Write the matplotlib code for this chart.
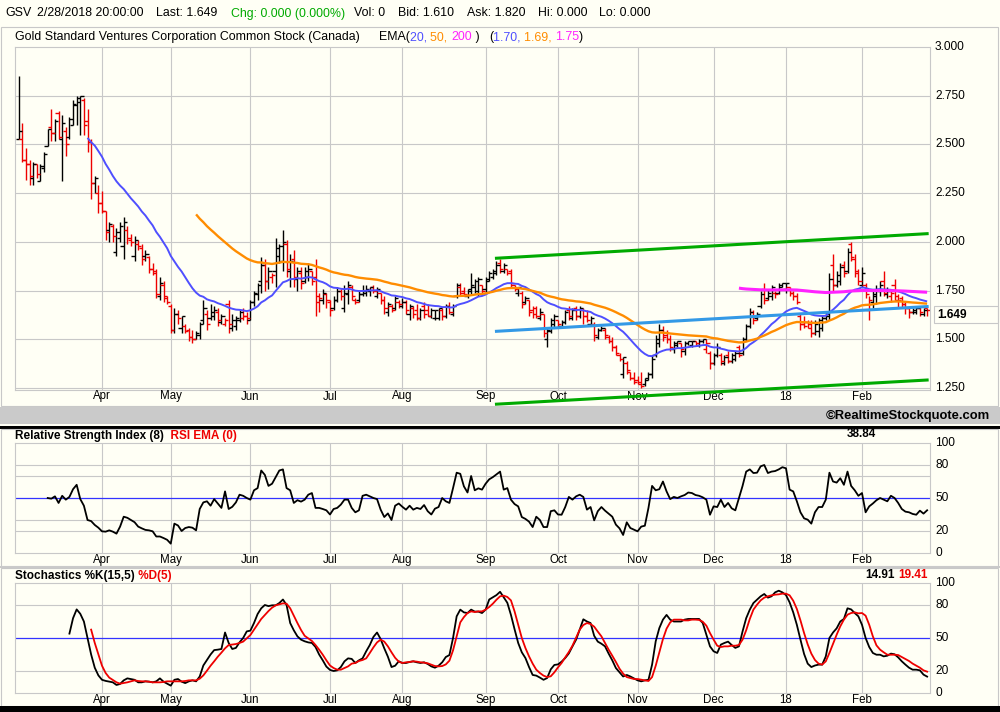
import matplotlib
matplotlib.use("Agg")
import matplotlib.pyplot as plt
import numpy as np
import pandas as pd
from matplotlib.patches import Rectangle
from matplotlib.transforms import blended_transform_factory as blend

# ---------------- data ----------------
HOLIDAYS = ["2017-04-14", "2017-05-29", "2017-07-04", "2017-09-04", "2017-11-23",
            "2017-12-25", "2018-01-01", "2018-01-15", "2018-02-19"]
DATES = pd.bdate_range("2017-03-01", "2018-02-28", freq="C", holidays=HOLIDAYS)

OPEN = [2.53, 2.53, 2.42, 2.40, 2.33, 2.40, 2.31, 2.38, 2.49, 2.59,
        2.56, 2.66, 2.53, 2.57, 2.54, 2.60, 2.70, 2.72, 2.73, 2.62,
        2.51, 2.30, 2.25, 2.20, 2.16, 2.06, 2.08, 1.95, 2.02, 1.98,
        2.06, 2.01, 1.93, 1.99, 1.97, 1.93, 1.92, 1.86, 1.84, 1.72,
        1.78, 1.71, 1.67, 1.55, 1.63, 1.56, 1.57, 1.55, 1.51, 1.50,
        1.52, 1.60, 1.63, 1.61, 1.62, 1.64, 1.59, 1.58, 1.68, 1.56,
        1.57, 1.60, 1.61, 1.62, 1.60, 1.69, 1.73, 1.80, 1.88, 1.80,
        1.82, 1.85, 1.93, 1.90, 1.99, 1.85, 1.91, 1.81, 1.84, 1.80,
        1.82, 1.85, 1.82, 1.69, 1.70, 1.73, 1.69, 1.66, 1.70, 1.75,
        1.66, 1.73, 1.77, 1.70, 1.70, 1.73, 1.74, 1.75, 1.77, 1.72,
        1.74, 1.70, 1.64, 1.67, 1.66, 1.69, 1.67, 1.69, 1.63, 1.66,
        1.65, 1.61, 1.67, 1.65, 1.62, 1.61, 1.61, 1.65, 1.62, 1.67,
        1.63, 1.72, 1.77, 1.75, 1.72, 1.76, 1.77, 1.75, 1.78, 1.76,
        1.81, 1.82, 1.84, 1.89, 1.85, 1.86, 1.85, 1.78, 1.74, 1.74,
        1.69, 1.70, 1.65, 1.66, 1.61, 1.63, 1.50, 1.54, 1.58, 1.60,
        1.57, 1.59, 1.65, 1.61, 1.66, 1.62, 1.65, 1.62, 1.58, 1.58,
        1.51, 1.55, 1.55, 1.51, 1.49, 1.46, 1.42, 1.32, 1.38, 1.33,
        1.30, 1.29, 1.28, 1.27, 1.30, 1.32, 1.42, 1.48, 1.55, 1.52,
        1.50, 1.45, 1.47, 1.48, 1.44, 1.48, 1.47, 1.49, 1.47, 1.49,
        1.45, 1.43, 1.38, 1.42, 1.42, 1.38, 1.42, 1.39, 1.40, 1.46,
        1.43, 1.50, 1.57, 1.64, 1.61, 1.67, 1.76, 1.71, 1.72, 1.74,
        1.74, 1.77, 1.76, 1.77, 1.74, 1.72, 1.62, 1.58, 1.59, 1.58,
        1.53, 1.54, 1.56, 1.61, 1.62, 1.88, 1.78, 1.80, 1.88, 1.85,
        1.99, 1.91, 1.84, 1.78, 1.78, 1.65, 1.69, 1.72, 1.75, 1.80,
        1.73, 1.72, 1.78, 1.70, 1.71, 1.68, 1.66, 1.64, 1.64, 1.66,
        1.63, 1.66]
HIGH = [2.85, 2.61, 2.48, 2.42, 2.41, 2.40, 2.40, 2.46, 2.58, 2.68,
        2.63, 2.67, 2.65, 2.59, 2.64, 2.73, 2.75, 2.75, 2.74, 2.68,
        2.53, 2.34, 2.29, 2.26, 2.16, 2.10, 2.09, 2.07, 2.10, 2.13,
        2.08, 2.04, 2.03, 2.01, 1.99, 1.96, 1.93, 1.89, 1.86, 1.82,
        1.80, 1.72, 1.68, 1.66, 1.65, 1.62, 1.58, 1.56, 1.55, 1.54,
        1.59, 1.70, 1.65, 1.68, 1.67, 1.66, 1.63, 1.61, 1.70, 1.63,
        1.62, 1.65, 1.66, 1.64, 1.70, 1.75, 1.79, 1.92, 1.91, 1.87,
        1.84, 2.02, 1.99, 2.06, 2.01, 1.94, 1.96, 1.87, 1.87, 1.87,
        1.89, 1.85, 1.91, 1.74, 1.76, 1.74, 1.70, 1.72, 1.77, 1.76,
        1.78, 1.80, 1.78, 1.71, 1.75, 1.78, 1.78, 1.77, 1.78, 1.77,
        1.74, 1.72, 1.69, 1.68, 1.72, 1.70, 1.71, 1.70, 1.68, 1.67,
        1.68, 1.66, 1.69, 1.68, 1.66, 1.65, 1.66, 1.66, 1.68, 1.69,
        1.68, 1.79, 1.79, 1.77, 1.76, 1.84, 1.81, 1.82, 1.78, 1.82,
        1.85, 1.86, 1.90, 1.91, 1.89, 1.86, 1.86, 1.78, 1.77, 1.75,
        1.72, 1.70, 1.67, 1.67, 1.66, 1.63, 1.56, 1.61, 1.63, 1.60,
        1.60, 1.65, 1.67, 1.66, 1.67, 1.67, 1.66, 1.65, 1.62, 1.59,
        1.56, 1.57, 1.56, 1.52, 1.51, 1.47, 1.43, 1.41, 1.39, 1.33,
        1.33, 1.31, 1.33, 1.30, 1.33, 1.42, 1.52, 1.58, 1.57, 1.55,
        1.52, 1.49, 1.49, 1.48, 1.49, 1.49, 1.49, 1.49, 1.50, 1.50,
        1.50, 1.44, 1.43, 1.48, 1.43, 1.42, 1.44, 1.43, 1.44, 1.47,
        1.51, 1.58, 1.66, 1.65, 1.64, 1.75, 1.79, 1.76, 1.78, 1.75,
        1.79, 1.79, 1.79, 1.77, 1.75, 1.74, 1.63, 1.62, 1.60, 1.60,
        1.60, 1.61, 1.62, 1.64, 1.84, 1.94, 1.85, 1.89, 1.90, 1.97,
        2.00, 1.94, 1.86, 1.87, 1.79, 1.72, 1.75, 1.78, 1.80, 1.85,
        1.77, 1.75, 1.81, 1.73, 1.72, 1.69, 1.67, 1.66, 1.67, 1.67,
        1.66, 1.66]
LOW = [2.53, 2.41, 2.32, 2.29, 2.29, 2.33, 2.31, 2.36, 2.49, 2.52,
       2.52, 2.53, 2.31, 2.44, 2.53, 2.60, 2.60, 2.55, 2.55, 2.46,
       2.22, 2.25, 2.15, 2.15, 2.01, 2.00, 2.00, 1.93, 2.00, 1.91,
       1.99, 1.98, 1.90, 1.96, 1.88, 1.90, 1.84, 1.83, 1.71, 1.70,
       1.69, 1.68, 1.53, 1.53, 1.58, 1.53, 1.53, 1.49, 1.48, 1.50,
       1.50, 1.58, 1.55, 1.60, 1.60, 1.57, 1.58, 1.57, 1.53, 1.54,
       1.55, 1.59, 1.60, 1.58, 1.60, 1.67, 1.70, 1.74, 1.75, 1.76,
       1.79, 1.77, 1.89, 1.85, 1.82, 1.77, 1.77, 1.75, 1.76, 1.79,
       1.80, 1.78, 1.62, 1.64, 1.68, 1.66, 1.62, 1.65, 1.69, 1.70,
       1.64, 1.68, 1.70, 1.68, 1.69, 1.72, 1.72, 1.72, 1.74, 1.71,
       1.68, 1.63, 1.62, 1.64, 1.65, 1.66, 1.66, 1.63, 1.60, 1.61,
       1.60, 1.60, 1.61, 1.62, 1.61, 1.60, 1.60, 1.60, 1.61, 1.63,
       1.62, 1.71, 1.72, 1.72, 1.71, 1.73, 1.74, 1.72, 1.73, 1.74,
       1.80, 1.81, 1.83, 1.84, 1.84, 1.83, 1.77, 1.75, 1.72, 1.66,
       1.68, 1.62, 1.61, 1.61, 1.60, 1.51, 1.46, 1.53, 1.56, 1.56,
       1.56, 1.58, 1.60, 1.60, 1.60, 1.61, 1.58, 1.59, 1.57, 1.49,
       1.50, 1.54, 1.50, 1.48, 1.44, 1.42, 1.39, 1.30, 1.32, 1.29,
       1.27, 1.27, 1.25, 1.26, 1.29, 1.30, 1.41, 1.46, 1.49, 1.48,
       1.44, 1.43, 1.46, 1.41, 1.42, 1.47, 1.46, 1.47, 1.46, 1.48,
       1.43, 1.35, 1.37, 1.41, 1.37, 1.37, 1.38, 1.38, 1.39, 1.41,
       1.42, 1.49, 1.56, 1.58, 1.60, 1.66, 1.68, 1.70, 1.70, 1.71,
       1.73, 1.77, 1.74, 1.72, 1.70, 1.68, 1.55, 1.56, 1.56, 1.51,
       1.52, 1.51, 1.54, 1.60, 1.60, 1.75, 1.77, 1.78, 1.82, 1.84,
       1.90, 1.82, 1.78, 1.77, 1.71, 1.60, 1.66, 1.68, 1.72, 1.72,
       1.71, 1.69, 1.70, 1.66, 1.66, 1.63, 1.61, 1.63, 1.63, 1.62,
       1.62, 1.62]
CLOSE = [2.57, 2.42, 2.40, 2.34, 2.40, 2.35, 2.39, 2.45, 2.58, 2.56,
         2.62, 2.54, 2.61, 2.50, 2.63, 2.71, 2.74, 2.75, 2.60, 2.51,
         2.30, 2.33, 2.20, 2.16, 2.05, 2.09, 2.03, 2.05, 2.08, 2.10,
         2.02, 2.00, 2.01, 1.98, 1.91, 1.94, 1.86, 1.85, 1.73, 1.79,
         1.72, 1.69, 1.55, 1.63, 1.61, 1.62, 1.54, 1.51, 1.50, 1.53,
         1.58, 1.66, 1.58, 1.64, 1.65, 1.60, 1.62, 1.60, 1.58, 1.60,
         1.61, 1.64, 1.62, 1.61, 1.69, 1.74, 1.78, 1.88, 1.80, 1.85,
         1.83, 1.97, 1.98, 2.00, 1.86, 1.90, 1.82, 1.85, 1.79, 1.85,
         1.86, 1.80, 1.72, 1.71, 1.74, 1.70, 1.65, 1.70, 1.75, 1.72,
         1.74, 1.78, 1.72, 1.69, 1.73, 1.75, 1.76, 1.77, 1.75, 1.76,
         1.70, 1.66, 1.68, 1.65, 1.71, 1.68, 1.69, 1.65, 1.67, 1.63,
         1.61, 1.65, 1.63, 1.62, 1.65, 1.65, 1.66, 1.62, 1.67, 1.64,
         1.67, 1.78, 1.74, 1.73, 1.75, 1.78, 1.80, 1.81, 1.75, 1.80,
         1.84, 1.85, 1.88, 1.86, 1.88, 1.84, 1.79, 1.76, 1.77, 1.68,
         1.71, 1.64, 1.63, 1.62, 1.64, 1.53, 1.55, 1.60, 1.62, 1.58,
         1.59, 1.64, 1.62, 1.65, 1.62, 1.66, 1.62, 1.60, 1.61, 1.52,
         1.55, 1.56, 1.52, 1.49, 1.46, 1.43, 1.40, 1.41, 1.34, 1.30,
         1.28, 1.27, 1.26, 1.29, 1.32, 1.40, 1.50, 1.55, 1.51, 1.50,
         1.46, 1.48, 1.49, 1.45, 1.48, 1.49, 1.49, 1.48, 1.49, 1.50,
         1.48, 1.38, 1.42, 1.46, 1.39, 1.41, 1.39, 1.42, 1.43, 1.42,
         1.50, 1.57, 1.64, 1.60, 1.63, 1.73, 1.70, 1.74, 1.77, 1.73,
         1.78, 1.79, 1.79, 1.74, 1.72, 1.69, 1.58, 1.57, 1.56, 1.53,
         1.58, 1.60, 1.61, 1.63, 1.81, 1.78, 1.83, 1.87, 1.84, 1.95,
         1.92, 1.85, 1.80, 1.84, 1.73, 1.70, 1.73, 1.76, 1.78, 1.74,
         1.75, 1.74, 1.72, 1.70, 1.68, 1.66, 1.64, 1.65, 1.66, 1.64,
         1.65, 1.649]

RSI_START = 8
RSI = [50, 49.4, 51.5, 45.5, 52, 48.5, 51, 58, 62, 49,
       43, 30, 29, 25.5, 23, 19.7, 19.4, 20.6, 19.4, 17.6,
       24, 33, 32, 30, 28, 24, 22.4, 21, 20.6, 19.7,
       15, 15, 13.6, 12, 8.5, 26.7, 25, 20, 22.7, 23.6,
       23, 20.6, 40, 46, 47, 43, 49, 45, 41, 56,
       40, 42, 46, 53, 52, 50, 48.5, 57, 59, 75,
       71, 61, 63, 69, 75, 76, 59, 57, 45.5, 48,
       46.7, 48.5, 53, 54.5, 41, 41, 40, 38.8, 35, 40,
       41, 44, 48.5, 48.5, 41, 37, 38.8, 52, 53, 51.5,
       50, 49, 39.4, 32.7, 36, 30, 43, 45, 42, 39.4,
       43, 39.4, 41, 40, 43.6, 38, 35, 40.3, 41.8, 50,
       47, 45.5, 59, 73, 72, 60.6, 55, 70, 57, 58.8,
       57.6, 63, 67, 69, 71.5, 74, 57.6, 59, 48.5, 44.5,
       42.4, 32.7, 31, 28.5, 23.6, 33, 30, 23.6, 23.6, 38,
       38.8, 35, 34.8, 41.8, 51, 48.5, 51.5, 53, 51, 39.4,
       41.8, 29.7, 38, 41.8, 38.5, 35.8, 33, 25.8, 22.4, 16.4,
       27.9, 22.7, 21.2, 19.7, 24, 24.8, 41, 61, 57, 58,
       65, 56, 49, 51, 50, 51.5, 52.7, 55, 54.5, 52.7,
       52, 50.6, 48.5, 34.8, 42.4, 41.8, 48.5, 41.8, 45.5, 40.6,
       38.8, 50, 61, 74, 76, 72.7, 73, 78.8, 80, 72.7,
       74, 74.5, 76, 78, 77, 57.6, 56, 47, 37, 31.5,
       30.3, 26.7, 37, 41.8, 41.8, 48.5, 73, 65, 64, 68,
       62, 74, 61, 57, 52, 54.5, 37, 42.4, 45, 48,
       50, 48.5, 47, 52, 50, 45.5, 40, 37.6, 37, 35.5,
       34.8, 38.5, 35.8, 38.84]

STOCH_K_START = 14
STOCH_K = [54, 68, 76, 72, 65, 50, 35, 23, 16, 12,
           11, 10.3, 9.7, 7.3, 8.2, 11.5, 13.3, 12.7, 12, 9.7,
           9.7, 10.6, 10.3, 9.7, 10.6, 13.3, 10.3, 8.5, 6.7, 12,
           12.7, 10.3, 9, 10.6, 11.5, 10.6, 15, 25, 30, 35,
           39, 39.4, 40, 55, 45.5, 40, 41, 46, 50, 56,
           56.7, 63.6, 71.8, 77, 80, 79, 79.7, 79.7, 81.8, 85,
           80, 63.6, 57, 51.5, 48.5, 47, 46, 45.5, 41.8, 35,
           29.7, 24, 21, 20, 20.6, 23.6, 28.8, 31.5, 31, 27.3,
           29.7, 31.5, 37.9, 43.6, 51, 55, 49, 40.6, 33, 23.6,
           24.8, 28.8, 27.3, 27.3, 28.2, 28.8, 27.9, 27.3, 27.9, 26.4,
           24.2, 23, 24.8, 27.9, 32.7, 34.5, 50, 69.7, 75.8, 73.3,
           72.7, 75.8, 74, 74, 72.7, 75.8, 85, 87, 89, 92,
           87, 82, 71, 58, 45.5, 37, 31.8, 23.6, 16.4, 15.8,
           14, 12, 13.6, 21.5, 25.5, 26, 28.5, 31.8, 36, 42.4,
           48.5, 57.6, 67, 65, 63.6, 52, 46.7, 44.8, 42.4, 35.8,
           29.7, 22.7, 18.8, 15, 16.4, 15, 13.3, 11.5, 10.6, 11.5,
           12, 25.8, 47, 59, 66.7, 71, 66.7, 65, 65, 65,
           66.7, 67.3, 67.3, 67.3, 67.3, 63.6, 53, 42.4, 37.9, 36.4,
           44, 45.5, 46.7, 43.6, 41, 42.4, 56, 68, 75.8, 81.8,
           84.8, 87.9, 90, 86.7, 87.9, 91.5, 93, 91.5, 89, 82.4,
           73.3, 62, 48.5, 35.5, 26.7, 23.6, 25, 25.8, 25.8, 33.3,
           50, 55, 58.8, 65, 67.3, 77, 76, 72.7, 69.7, 62,
           50, 41.8, 36.4, 34.8, 34.8, 33.3, 33.9, 35.8, 35.2, 32.4,
           28.8, 25.8, 23, 21.2, 21.2, 20.6, 16.7, 14.91]

STOCH_D_START = 20
STOCH_D = [57.6, 45.5, 35, 24.8, 18.2, 14, 11.8, 9.7, 8.5, 9.1,
           9.7, 10.6, 11.5, 10.9, 10.6, 10.6, 10.3, 9.7, 9.7, 9.7,
           10, 10.6, 10.6, 10.6, 10.6, 10.6, 10.9, 11.5, 11.5, 11.5,
           13, 16, 20.3, 24.8, 28.8, 33, 36.7, 40.6, 43.6, 44,
           44.5, 45.5, 46.7, 49.7, 52.7, 57.6, 62.4, 67.3, 70.9, 74.5,
           77.6, 79.7, 80.6, 81.5, 81.2, 77, 70.3, 63.6, 57.3, 52,
           49.7, 47.3, 43.6, 39.4, 34.8, 29.7, 25, 22.7, 21.2, 21.2,
           22.7, 24.2, 26.7, 27.3, 29.1, 30, 31.5, 36.4, 41.5, 46,
           48.5, 46.7, 42.4, 37, 32, 28.5, 27.3, 27.9, 28.2, 28.8,
           28.5, 27.9, 27.6, 27, 25.8, 24.5, 24.2, 24.5, 26, 29.4,
           38.8, 51.5, 64.2, 69, 72.7, 74.2, 73.6, 74.2, 74.2, 75.8,
           78.2, 81.2, 84.8, 87.9, 88.5, 87.3, 84.2, 74.2, 62, 50,
           40.9, 33.3, 26.7, 21.2, 18.2, 15.8, 14.5, 15.2, 18.8, 23.3,
           27.3, 32.4, 37.3, 43, 50.3, 57.6, 61.8, 63.6, 62.7, 60.3,
           55.8, 51.5, 45.5, 39.4, 33.9, 28.2, 22.1, 17.6, 14.5, 13.6,
           12.7, 12.7, 12.1, 11.5, 10.9, 14.5, 24.8, 37, 49, 58.5,
           64.2, 66.7, 66.7, 66.7, 66, 66, 66.7, 66.7, 66.4, 64.8,
           61.2, 54.5, 48.5, 43, 41.8, 42.4, 42.4, 43, 43, 43.6,
           48.5, 57, 67.3, 75.8, 80.3, 84.2, 86.7, 87.9, 88.8, 89.4,
           89.7, 90.3, 90.3, 88.8, 83.9, 76.4, 66, 54.5, 44.2, 35.8,
           30, 26.7, 25.8, 28.8, 36.4, 44.8, 53, 60.6, 66.7, 71.2,
           72.7, 73.3, 72.4, 72.7, 70.3, 62, 51.5, 43.3, 39.4, 37,
           34.8, 34.8, 34.8, 34.5, 32.7, 30.9, 29.1, 26.7, 24.8, 23,
           20.6, 19.41]

EMA_PERIODS = [20, 50, 200]
EMA_LAST = ["1.70", "1.69", "1.75"]

TREND_DATES = ["2017-09-07", "2018-02-28"]
CHANNEL_UPPER = [1.916, 2.042]
CHANNEL_LOWER = [1.167, 1.291]
TREND_MID = [1.541, 1.668]

PRICE_TICKS = [3.0, 2.75, 2.5, 2.25, 2.0, 1.75, 1.5, 1.25]
RSI_TICKS = [100, 80, 50, 20, 0]
STOCH_TICKS = [100, 80, 50, 20, 0]

# ---------------- style ----------------
W, H = 1000, 712
BG = "#FFFFF5"
GRID = "#C8C8C8"
RED = "#EE0000"
C_EMA = ["#4F4FFF", "#FF8C00", "#FF22FF"]
GREEN = "#00AA00"
LBLUE = "#3399E6"
FONT = ["Liberation Sans", "DejaVu Sans"]
plt.rcParams["font.family"] = FONT

X_FIRST_PX, BAR_PX = 18.76, 3.619
def xlim_for(x0, x1):
    return ((x0 - X_FIRST_PX) / BAR_PX, (x1 - X_FIRST_PX) / BAR_PX)

fig = plt.figure(figsize=(W / 100, H / 100), dpi=100, facecolor=BG)
renderer = fig.canvas.get_renderer()

def fy(y):
    return 1 - y / H

def px_axes(x0, y0, x1, y1):
    ax = fig.add_axes([x0 / W, 1 - y1 / H, (x1 - x0) / W, (y1 - y0) / H])
    ax.set_facecolor(BG)
    ax.set_xticks([]); ax.set_yticks([])
    for s in ax.spines.values():
        s.set_color(GRID); s.set_linewidth(0.8)
    return ax

def frame(x0, y0, x1, y1, ec=GRID, fc="none", lw=0.8):
    fig.add_artist(Rectangle((x0 / W, fy(y1)), (x1 - x0) / W, (y1 - y0) / H,
                             transform=fig.transFigure, ec=ec, fc=fc, lw=lw))

def text_w(s, **kw):
    t = fig.text(0, 0, s, **kw)
    w = t.get_window_extent(renderer=renderer).width
    t.remove()
    return w

def colored(x_px, y_px, parts, **kw):
    prefix = ""
    for s, c in parts:
        off = (text_w(prefix + "x", **kw) - text_w("x", **kw)) if prefix else 0
        fig.text((x_px + off) / W, fy(y_px), s, color=c, ha="left", va="center", **kw)
        prefix += s

def ema(vals, n):
    v = np.asarray(vals, float)
    out = np.full(len(v), np.nan)
    out[n - 1] = v[:n].mean()
    a = 2.0 / (n + 1)
    for k in range(n, len(v)):
        out[k] = a * v[k] + (1 - a) * out[k - 1]
    return out

N = len(DATES)
x = np.arange(N)
O, Hh, L, C = map(np.asarray, (OPEN, HIGH, LOW, CLOSE))
cols = [("black" if k == 0 or C[k] >= C[k - 1] else RED) for k in range(N)]

# month boundaries
months = pd.period_range("2017-04", "2018-02", freq="M")
m_idx, m_lab = [], []
for p in months:
    k = int(np.argmax((DATES.year == p.year) & (DATES.month == p.month)))
    m_idx.append(k)
    m_lab.append(DATES[k].strftime("%y") if p.month == 1 else DATES[k].strftime("%b"))

# ---------------- frames ----------------
frame(1, 27, 998, 406)
frame(0, 407, 1000, 424, ec="none", fc="#CACACA")
frame(0, 425.5, 1000, 428.5, ec="none", fc="black")
frame(1, 429, 998, 566)
frame(0, 565.5, 1000, 567.5, ec="none", fc="#CACACA")
frame(1, 568, 998, 706)
frame(0, 706, 1000, 712, ec="none", fc="black")

# ---------------- main price panel ----------------
ax = px_axes(15, 47, 930, 390)
YMAX = 3.0
YMIN = YMAX - (390 - 47) / 194.86
ax.set_xlim(*xlim_for(15, 930)); ax.set_ylim(YMIN, YMAX)
for v in PRICE_TICKS[1:]:
    ax.axhline(v, color=GRID, lw=0.8, zorder=0)
for k in m_idx:
    ax.axvline(k, color=GRID, lw=0.8, zorder=0)

ax.vlines(x, L, Hh, colors=cols, lw=1.0, zorder=2)
ax.hlines(O, x - 0.9, x, colors=cols, lw=1.0, zorder=2)
ax.hlines(C, x, x + 0.9, colors=cols, lw=1.0, zorder=2)

ema_lw = [1.4, 1.7, 2.2]
for n, c, lw in zip(EMA_PERIODS, C_EMA, ema_lw):
    ax.plot(x, ema(CLOSE, n), color=c, lw=lw, zorder=3, solid_capstyle="butt")

t_idx = [DATES.get_loc(pd.Timestamp(d)) for d in TREND_DATES]
ax.plot(t_idx, CHANNEL_UPPER, color=GREEN, lw=2.2, zorder=4, clip_on=False)
ax.plot(t_idx, CHANNEL_LOWER, color=GREEN, lw=2.2, zorder=4, clip_on=False)
ax.plot(t_idx, TREND_MID, color=LBLUE, lw=2.2, zorder=4, clip_on=False)

tr = blend(fig.transFigure, ax.transData)
for v in PRICE_TICKS:
    ax.text(935 / W, v, f"{v:.3f}", transform=tr, fontsize=8.6, va="center",
            ha="left", clip_on=False)
ppu = (390 - 47) / (YMAX - YMIN)
lastv = C[-1] - 4.5 / ppu
ax.add_patch(Rectangle((934 / W, lastv - 8.5 / ppu), 64 / W, 17 / ppu, transform=tr,
                       fc=BG, ec=GRID, lw=0.8, clip_on=False, zorder=5))
ax.text(937 / W, lastv, f"{C[-1]:.3f}", transform=tr, fontsize=8.6, fontweight="bold",
        va="center", ha="left", clip_on=False, zorder=6)
trx = blend(ax.transData, fig.transFigure)
for k, lab in zip(m_idx, m_lab):
    ax.text(k, fy(396.5), lab, transform=trx, fontsize=8.3, ha="center", va="center")

# ---------------- header texts ----------------
HDR = dict(fontsize=8.9)
for s, xp, c in [("GSV", 5, "black"), ("2/28/2018 20:00:00", 37, "black"),
                 ("Last: 1.649", 156, "black"), ("Chg: 0.000 (0.000%)", 231, GREEN),
                 ("Vol: 0", 354, "black"), ("Bid: 1.610", 398, "black"),
                 ("Ask: 1.820", 467, "black"), ("Hi: 0.000", 538, "black"),
                 ("Lo: 0.000", 599, "black")]:
    fig.text(xp / W, fy(13.5), s, color=c, ha="left", va="center", **HDR)

fig.text(15 / W, fy(37), "Gold Standard Ventures Corporation Common Stock (Canada)",
         ha="left", va="center", **HDR)
colored(379, 37, [("EMA(", "black"), (f"{EMA_PERIODS[0]}, ", C_EMA[0]),
                  (f"{EMA_PERIODS[1]}, ", C_EMA[1]), (f"{EMA_PERIODS[2]}", C_EMA[2]),
                  (" )", "black")], **HDR)
colored(489, 37, [("(", "black"), (f"{EMA_LAST[0]}, ", C_EMA[0]),
                  (f"{EMA_LAST[1]}, ", C_EMA[1]), (EMA_LAST[2], C_EMA[2]),
                  (")", "black")], **HDR)
fig.text(990 / W, fy(415.5), "\u00a9RealtimeStockquote.com", ha="right", va="center",
         fontsize=9.4, fontweight="bold")

# ---------------- RSI panel ----------------
BOLD = dict(fontsize=8.5, fontweight="bold")
ax2 = px_axes(15, 443, 930, 553)
ax2.set_xlim(*xlim_for(15, 930)); ax2.set_ylim(0, 100)
for v in (20, 30, 70, 80):
    ax2.axhline(v, color=GRID, lw=0.8, zorder=0)
for k in m_idx:
    ax2.axvline(k, color=GRID, lw=0.8, zorder=0)
ax2.axhline(50, color="#3333FF", lw=0.9, zorder=1)
ax2.plot(np.arange(RSI_START, RSI_START + len(RSI)), RSI, color="black", lw=1.3, zorder=3)
tr2 = blend(fig.transFigure, ax2.transData)
for v in RSI_TICKS:
    ax2.text(935 / W, v, str(v), transform=tr2, fontsize=8.6, va="center", ha="left",
             clip_on=False)
trx2 = blend(ax2.transData, fig.transFigure)
for k, lab in zip(m_idx, m_lab):
    ax2.text(k, fy(560), lab, transform=trx2, fontsize=8.3, ha="center", va="center")
colored(15, 436, [("Relative Strength Index (8)", "black"), ("  RSI EMA (0)", RED)], **BOLD)
fig.text(876 / W, fy(434.5), f"{RSI[-1]:.2f}", ha="right", va="center", **BOLD)

# ---------------- Stochastics panel ----------------
ax3 = px_axes(15, 583, 930, 693)
ax3.set_xlim(*xlim_for(15, 930)); ax3.set_ylim(0, 100)
for v in (20, 80):
    ax3.axhline(v, color=GRID, lw=0.8, zorder=0)
for k in m_idx:
    ax3.axvline(k, color=GRID, lw=0.8, zorder=0)
ax3.axhline(50, color="#3333FF", lw=0.9, zorder=1)
ax3.plot(np.arange(STOCH_K_START, STOCH_K_START + len(STOCH_K)), STOCH_K, color="black",
         lw=1.3, zorder=3)
ax3.plot(np.arange(STOCH_D_START, STOCH_D_START + len(STOCH_D)), STOCH_D, color=RED,
         lw=1.3, zorder=4)
tr3 = blend(fig.transFigure, ax3.transData)
for v in STOCH_TICKS:
    ax3.text(935 / W, v, str(v), transform=tr3, fontsize=8.6, va="center", ha="left",
             clip_on=False)
trx3 = blend(ax3.transData, fig.transFigure)
for k, lab in zip(m_idx, m_lab):
    ax3.text(k, fy(700), lab, transform=trx3, fontsize=8.3, ha="center", va="center")
colored(15, 576, [("Stochastics %K(15,5)", "black"), (" %D(5)", RED)], **BOLD)
fig.text(895 / W, fy(575.5), f"{STOCH_K[-1]:.2f}", ha="right", va="center", **BOLD)
fig.text(928 / W, fy(575.5), f"{STOCH_D[-1]:.2f}", ha="right", va="center", color=RED,
         **BOLD)

fig.savefig("out.png", dpi=100, facecolor=BG)
